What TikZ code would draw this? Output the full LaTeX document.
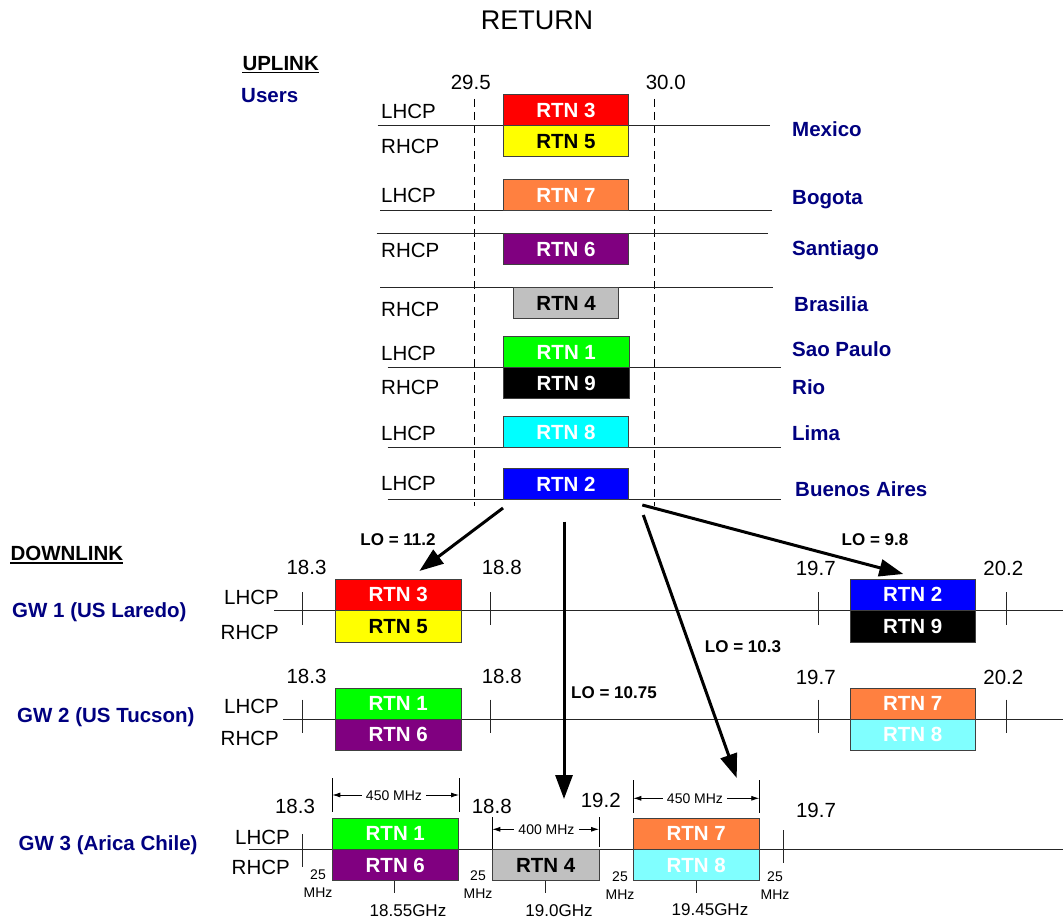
\documentclass[tikz,border=0pt]{standalone}
\usepackage{fontspec}
\setmainfont{Liberation Sans}
\usetikzlibrary{arrows.meta}
\definecolor{navy}{HTML}{000080}
\definecolor{rtnred}{HTML}{FF0000}
\definecolor{rtnyellow}{HTML}{FFFF00}
\definecolor{rtnorange}{HTML}{FF8040}
\definecolor{rtnpurple}{HTML}{800080}
\definecolor{rtngrey}{HTML}{C0C0C0}
\definecolor{rtngreen}{HTML}{00FF00}
\definecolor{rtnblue}{HTML}{0000FF}
\definecolor{rtncyan}{HTML}{00FFFF}
\definecolor{rtnlcyan}{HTML}{80FFFF}
\begin{document}
\begin{tikzpicture}[x=1pt,y=-1pt,
  txt/.style={inner sep=0pt, font=\fontsize{20.5}{24}\selectfont, text height=14.7pt, text depth=0pt},
  btxt/.style={txt, font=\fontsize{20.5}{24}\selectfont\bfseries},
  city/.style={btxt, text=navy, anchor=west},
  band/.style={draw=black!75, line width=0.8pt, inner sep=0pt, font=\fontsize{20.5}{24}\selectfont\bfseries, text=white, minimum height=31pt, text height=14.7pt, text depth=0pt},
  std/.style={minimum width=125.5pt},
  lotxt/.style={inner sep=0pt, font=\fontsize{17}{20}\selectfont\bfseries, text height=12.2pt, text depth=0pt},
  small/.style={inner sep=0pt, font=\fontsize{14}{17.7}\selectfont, align=center, anchor=north},
  dimtxt/.style={inner xsep=4pt, inner ysep=1pt, fill=white, font=\fontsize{14}{17}\selectfont, text height=10pt, text depth=0pt},
  ghz/.style={inner sep=0pt, font=\fontsize{17}{20}\selectfont, text height=12.2pt, text depth=0pt},
  rule/.style={line width=1pt, black!85},
  tickline/.style={line width=1pt, black!85},
  vdash/.style={line width=1pt, dash pattern=on 8pt off 5pt},
  bigarrow/.style={line width=3pt, -{Triangle[length=24pt,width=17pt]}},
  dimarrow/.style={line width=0.8pt, {Latex[length=8pt,width=5pt]}-{Latex[length=8pt,width=5pt]}},
  dimline/.style={line width=0.8pt}
]
\useasboundingbox (0,0) rectangle (1063,920);

% ---------------- title ----------------
\node[txt, font=\fontsize{27}{32}\selectfont, text height=19.3pt] (title) at (537,20) {RETURN};

% ---------------- uplink ----------------
\node[btxt, anchor=west] (uplink) at (242.3,62.7) {UPLINK};
\draw[line width=1.5pt] ([yshift=-2.5pt]uplink.south west) -- ([yshift=-2.5pt]uplink.south east);
\node[city] (users) at (241,95) {Users};

\node[txt] (f295) at (470.7,81.7) {29.5};
\node[txt] (f300) at (665.7,81.7) {30.0};
\draw[vdash] (474.3,99) -- (474.3,506);
\draw[vdash] (654.3,99) -- (654.3,506);

\draw[rule] (377.7,125.3) -- (770,125.3);
\draw[rule] (380,210.7) -- (772.3,210.7);
\draw[rule] (376.7,233.3) -- (768.3,233.3);
\draw[rule] (380,287.3) -- (773,287.3);
\draw[rule] (387.7,367.7) -- (781,367.7);
\draw[rule] (387.7,447.7) -- (781,447.7);
\draw[rule] (387.7,499.3) -- (781,499.3);

\node[band, std, fill=rtnred] (u3) at (566,110.2) {RTN 3};
\node[band, std, fill=rtnyellow, text=black] (u5) at (566,141) {RTN 5};
\node[band, std, fill=rtnorange] (u7) at (566,195.2) {RTN 7};
\node[band, std, fill=rtnpurple] (u6) at (566,248.8) {RTN 6};
\node[band, minimum width=104.8pt, fill=rtngrey, text=black] (u4) at (566.1,302.8) {RTN 4};
\node[band, std, fill=rtngreen] (u1) at (566.3,352.2) {RTN 1};
\node[band, std, fill=black] (u9) at (566.3,383.2) {RTN 9};
\node[band, std, fill=rtncyan] (u8) at (566,432.2) {RTN 8};
\node[band, std, fill=rtnblue] (u2) at (566,483.8) {RTN 2};

\node[txt, anchor=west] (p1) at (381,110.7) {LHCP};
\node[txt, anchor=west] (p2) at (381,146) {RHCP};
\node[txt, anchor=west] (p3) at (381,195) {LHCP};
\node[txt, anchor=west] (p4) at (381,250) {RHCP};
\node[txt, anchor=west] (p5) at (381,309) {RHCP};
\node[txt, anchor=west] (p6) at (381,353) {LHCP};
\node[txt, anchor=west] (p7) at (381,386.7) {RHCP};
\node[txt, anchor=west] (p8) at (381,432.7) {LHCP};
\node[txt, anchor=west] (p9) at (381,483.3) {LHCP};

\node[city] (c1) at (792,129.3) {Mexico};
\node[city] (c2) at (792,196.7) {Bogota};
\node[city] (c3) at (792,247.7) {Santiago};
\node[city] (c4) at (794,304) {Brasilia};
\node[city] (c5) at (792,349) {Sao Paulo};
\node[city] (c6) at (792,386.7) {Rio};
\node[city] (c7) at (792,433) {Lima};
\node[city] (c8) at (795,489) {Buenos Aires};

% ---------------- downlink ----------------
\node[btxt, anchor=west] (downlink) at (10.3,553) {DOWNLINK};
\draw[line width=1.5pt] ([yshift=-2.5pt]downlink.south west) -- ([yshift=-2.5pt]downlink.south east);

\node[city] (gw1) at (12,610) {GW 1 (US Laredo)};
\node[city] (gw2) at (17,715) {GW 2 (US Tucson)};
\node[city] (gw3) at (18.5,843) {GW 3 (Arica Chile)};

% GW1
\draw[rule] (274,610) -- (1063,610);
\foreach \xx in {302.8,490.7,818.3,1006} \draw[tickline] (\xx,592) -- (\xx,625);
\node[txt] (g1a) at (306.5,567) {18.3};
\node[txt] (g1b) at (501.7,567) {18.8};
\node[txt] (g1c) at (815.7,568) {19.7};
\node[txt] (g1d) at (1003.3,568) {20.2};
\node[txt, anchor=east] (g1l) at (279,596.7) {LHCP};
\node[txt, anchor=east] (g1r) at (279,631.7) {RHCP};
\node[band, std, fill=rtnred] (d3) at (398.2,594.5) {RTN 3};
\node[band, std, fill=rtnyellow, text=black, minimum height=32pt] (d5) at (398.2,626) {RTN 5};
\node[band, std, fill=rtnblue] (d2) at (912.7,594.5) {RTN 2};
\node[band, std, fill=black, minimum height=32pt] (d9) at (912.7,626) {RTN 9};

% GW2
\draw[rule] (283,719) -- (1063,719);
\foreach \xx in {302.8,490.7,818.3,1006} \draw[tickline] (\xx,699.5) -- (\xx,733);
\node[txt] (g2a) at (306.5,676) {18.3};
\node[txt] (g2b) at (501.7,676) {18.8};
\node[txt] (g2c) at (815.7,676.7) {19.7};
\node[txt] (g2d) at (1003.3,676.7) {20.2};
\node[txt, anchor=east] (g2l) at (279,705.7) {LHCP};
\node[txt, anchor=east] (g2r) at (279,738.3) {RHCP};
\node[band, std, fill=rtngreen] (e1) at (398.2,703.5) {RTN 1};
\node[band, std, fill=rtnpurple] (e6) at (398.2,734.5) {RTN 6};
\node[band, std, fill=rtnorange] (e7) at (912.7,703.5) {RTN 7};
\node[band, std, fill=rtnlcyan] (e8) at (912.7,734.5) {RTN 8};

% GW3
\draw[rule] (249,849) -- (1063,849);
\draw[tickline] (302.3,834) -- (302.3,866.7);
\draw[tickline] (783.3,830) -- (783.3,863);
\node[txt] (g3a) at (295,806) {18.3};
\node[txt] (g3b) at (491.7,806) {18.8};
\node[txt] (g3c) at (600.7,800) {19.2};
\node[txt] (g3d) at (816,810) {19.7};
\node[txt, anchor=east] (g3l) at (290,836.7) {LHCP};
\node[txt, anchor=east] (g3r) at (290,867) {RHCP};
\node[band, minimum width=126pt, fill=rtngreen] (f1) at (395.3,833.5) {RTN 1};
\node[band, minimum width=126pt, fill=rtnpurple, minimum height=31.5pt] (f6) at (395.3,864.75) {RTN 6};
\node[band, minimum width=106.7pt, fill=rtngrey, text=black, minimum height=31.5pt] (f4) at (545.65,864.75) {RTN 4};
\node[band, minimum width=125.7pt, fill=rtnorange] (f7) at (696.2,833.5) {RTN 7};
\node[band, minimum width=125.7pt, fill=rtnlcyan, minimum height=31.5pt] (f8) at (696.2,864.75) {RTN 8};

% dimensions
\draw[dimline] (332.3,778) -- (332.3,812);
\draw[dimline] (459,778) -- (459,812);
\coordinate (da1) at (332.3,795);
\coordinate (da2) at (459,795);
\draw[dimarrow] (da1) -- (da2);
\node[dimtxt] (dt1) at (394,795) {450 MHz};

\draw[dimline] (492.3,817) -- (492.3,849);
\draw[dimline] (599,817) -- (599,847);
\coordinate (db1) at (492.3,829.3);
\coordinate (db2) at (599,829.3);
\draw[dimarrow] (db1) -- (db2);
\node[dimtxt] (dt2) at (546.5,829.3) {400 MHz};

\draw[dimline] (633.3,780) -- (633.3,813);
\draw[dimline] (759.3,780) -- (759.3,813);
\coordinate (dc1) at (633.3,798.3);
\coordinate (dc2) at (759.3,798.3);
\draw[dimarrow] (dc1) -- (dc2);
\node[dimtxt] (dt3) at (695,798.3) {450 MHz};

% guard bands
\node[small] (m1) at (318,870) {25\\MHz};
\node[small] (m2) at (478,871) {25\\MHz};
\node[small] (m3) at (620,871.5) {25\\MHz};
\node[small] (m4) at (775,871.5) {25\\MHz};

% centre frequencies
\draw[tickline] (394.3,880.5) -- (394.3,893);
\draw[tickline] (545.7,880.5) -- (545.7,893);
\draw[tickline] (696,880.5) -- (696,893);
\node[ghz] (h1) at (408,910) {18.55GHz};
\node[ghz] (h2) at (559,910) {19.0GHz};
\node[ghz] (h3) at (710,909) {19.45GHz};

% ---------------- LO arrows ----------------
\coordinate (s1) at (503,508);
\coordinate (t1) at (419.4,571);
\coordinate (s2) at (564,521.7);
\coordinate (t2) at (564,799);
\coordinate (s3) at (643.3,515);
\coordinate (t3) at (736.7,778);
\coordinate (s4) at (642.3,505);
\coordinate (t4) at (903.3,574);
\draw[bigarrow] (s1) -- (t1);
\draw[bigarrow] (s2) -- (t2);
\draw[bigarrow] (s3) -- (t3);
\draw[bigarrow] (s4) -- (t4);

\node[lotxt] (lo1) at (398,539.3) {LO = 11.2};
\node[lotxt] (lo2) at (875,539.3) {LO = 9.8};
\node[lotxt] (lo3) at (743,646.7) {LO = 10.3};
\node[lotxt] (lo4) at (614,692.7) {LO = 10.75};
\end{tikzpicture}
\end{document}
